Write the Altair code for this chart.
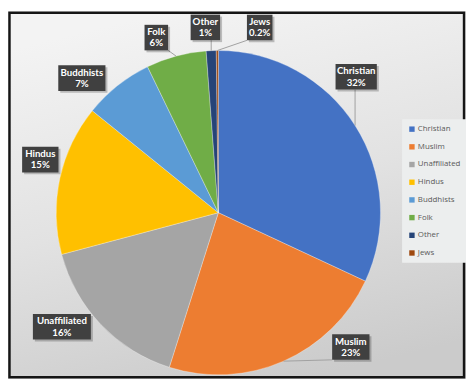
import altair as alt
import numpy as np
import pandas as pd

# ---- data ----
categories = ["Christian", "Muslim", "Unaffiliated", "Hindus", "Buddhists", "Folk", "Other", "Jews"]
shares = [32, 23, 16, 15, 7, 6, 1, 0.2]
pct_labels = ["32%", "23%", "16%", "15%", "7%", "6%", "1%", "0.2%"]
colors = ["#4472C4", "#ED7D31", "#A5A5A5", "#FFC000", "#5B9BD5", "#70AD47", "#264478", "#9E480E"]

# ---- layout / style (callout placement, polar around the pie centre) ----
W, H = 466, 374
CX, CY, R = 214, 205, 165
label_angle = [45.4, 135.4, 233.9, 286.6, 314.6, 340.5, 356.0, 12.6]
label_radius = [197, 192, 197, 189, 195, 189, 189, 193]
box_w = [42, 38, 59, 37, 48, 24, 30, 26]
box_h = 26
has_leader = [True, True, False, False, False, True, True, True]

df = pd.DataFrame({"cat": categories, "share": shares, "idx": range(len(categories))})

# callout table
total = float(np.sum(shares))
cum = np.cumsum(shares)
mid = (cum - np.array(shares) / 2.0) / total * 360.0
la = np.radians(label_angle)
lx = CX + np.array(label_radius) * np.sin(la)
ly = CY - np.array(label_radius) * np.cos(la)
bw = np.array(box_w, dtype=float)
x0, x1 = lx - bw / 2, lx + bw / 2
y0, y1 = ly - box_h / 2, ly + box_h / 2
ma = np.radians(mid)
ax = CX + R * np.sin(ma)
ay = CY - R * np.cos(ma)
ex = np.clip(ax, x0, x1)
ey = np.clip(ay, y0, y1)
lab = pd.DataFrame({
    "text": [c + "\n" + p for c, p in zip(categories, pct_labels)],
    "lx": lx, "ly": ly, "x0": x0, "x1": x1, "y0": y0, "y1": y1,
    "sx0": x0 + 2, "sx1": x1 + 2, "sy0": y0 + 2, "sy1": y1 + 2,
    "ax": ax, "ay": ay, "ex": ex, "ey": ey, "lead": has_leader,
})
lead = lab[lab["lead"]]

one = pd.DataFrame({"a": [0]})

background = alt.Chart(one).mark_rect(
    fill=alt.Gradient(
        gradient="linear", x1=0.35, y1=0, x2=0.65, y2=1,
        stops=[alt.GradientStop(color="#f3f3f3", offset=0),
               alt.GradientStop(color="#e2e2e2", offset=0.5),
               alt.GradientStop(color="#cbcbcb", offset=1)],
    )
).encode(x=alt.value(0), x2=alt.value(W), y=alt.value(0), y2=alt.value(H))

pie = alt.Chart(df).mark_arc(radius=R, stroke="#ffffff", strokeWidth=0.3).encode(
    theta=alt.Theta("share:Q", stack=True),
    color=alt.Color(
        "cat:N",
        scale=alt.Scale(domain=categories, range=colors),
        legend=alt.Legend(
            title=None, orient="none", legendX=401, legendY=110,
            symbolType="square", symbolSize=30, symbolStrokeWidth=0,
            labelFont="Open Sans", labelFontSize=8, labelColor="#595959",
            rowPadding=10, padding=6, labelOffset=2,
            fillColor="#eceeee",
        ),
    ),
    order=alt.Order("idx:Q"),
    x=alt.value(CX), y=alt.value(CY),
)

leaders = alt.Chart(lead).mark_rule(color="#a0a0a0", strokeWidth=1).encode(
    x=alt.X("ax:Q", scale=None), y=alt.Y("ay:Q", scale=None),
    x2="ex:Q", y2="ey:Q",
)

shadows = alt.Chart(lab).mark_rect(color="#000000", opacity=0.22).encode(
    x=alt.X("sx0:Q", scale=None), x2="sx1:Q",
    y=alt.Y("sy0:Q", scale=None), y2="sy1:Q",
)

boxes = alt.Chart(lab).mark_rect(color="#404040").encode(
    x=alt.X("x0:Q", scale=None), x2="x1:Q",
    y=alt.Y("y0:Q", scale=None), y2="y1:Q",
)

texts = alt.Chart(lab).mark_text(
    color="white", font="Lato", fontWeight="bold", fontSize=9.8,
    lineBreak="\n", align="center", baseline="middle", lineHeight=11.5, dy=-5.5,
).encode(
    x=alt.X("lx:Q", scale=None), y=alt.Y("ly:Q", scale=None), text="text:N",
)

frame = alt.Chart(one).mark_rect(fillOpacity=0, stroke="#151515", strokeWidth=2.5).encode(
    x=alt.value(1.5), x2=alt.value(W - 2), y=alt.value(1.5), y2=alt.value(H - 1.5)
)

chart = alt.layer(background, pie, leaders, shadows, boxes, texts, frame).properties(
    width=W, height=H, padding=0,
    autosize=alt.AutoSizeParams(type="none"),
).configure_view(stroke=None)

chart.save("out.html", embed_options={"renderer": "svg", "actions": False})
